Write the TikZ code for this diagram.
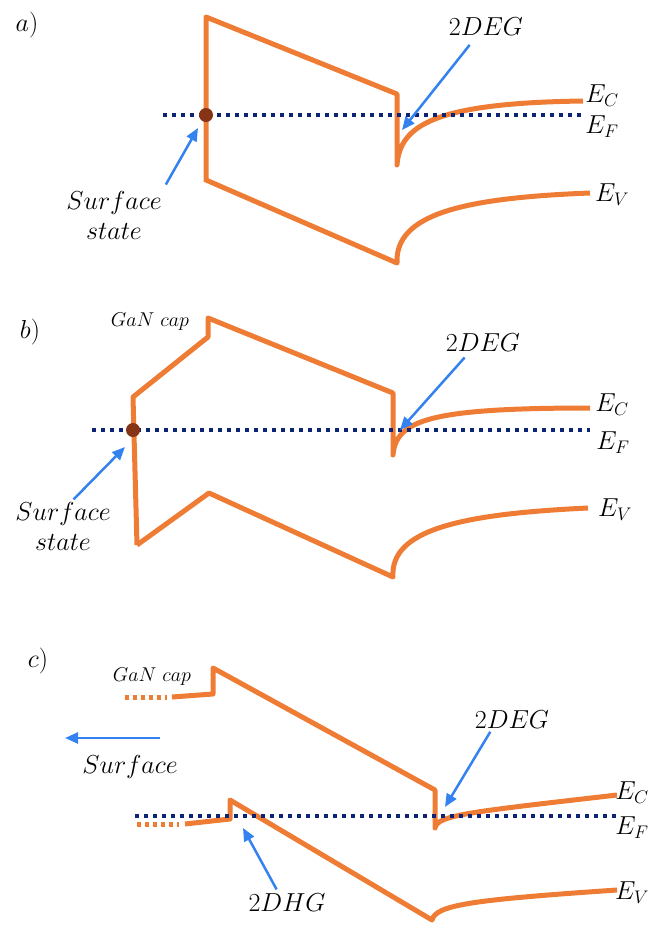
\RequirePackage{fix-cm}
\documentclass[tikz,border=0pt]{standalone}
\usepackage{amsmath}
\usetikzlibrary{arrows.meta}
\definecolor{band}{RGB}{238,124,52}
\definecolor{fermi}{RGB}{12,36,118}
\definecolor{ptr}{RGB}{52,130,240}
\definecolor{trap}{RGB}{135,52,22}

\begin{document}
\begin{tikzpicture}[x=1pt, y=-1pt,
    bnd/.style={band, line width=5pt, line join=round},
    bndcut/.style={band, line width=5pt, dash pattern=on 4pt off 4pt},
    ef/.style={fermi, line width=4pt, dash pattern=on 4pt off 5pt},
    arr/.style={ptr, line width=2.5pt, -{Triangle[length=13pt,width=11pt]}},
    lbl/.style={font=\fontsize{26}{30}\selectfont, inner sep=1pt, align=center},
    small/.style={font=\fontsize{20}{23}\selectfont, inner sep=1pt},
    trapdot/.style={circle, fill=trap, minimum size=14pt, inner sep=0pt}]

    \useasboundingbox (0,0) rectangle (649,930);

    % panel a)
    \node[lbl] (tagA) at (27,25) {$a)$};
    \draw[bnd] (206,182) -- (206,17) -- (397,94) -- (397,165)
      .. controls (400,125) and (435,103) .. (583,101);
    \draw[bnd] (206,180) -- (397,263)
      .. controls (395,215) and (460,198) .. (590,193);
    \draw[ef] (163,115) -- (585,115);
    \node[trapdot] (stA) at (206,115) {};
    \node[lbl] (ssA) at (114,215) {$Surface$\\$state$};
    \node[lbl] (egA) at (486,27) {$2DEG$};
    \coordinate (ssAtip) at (198,128);
    \coordinate (egAtip) at (402,130);
    \draw[arr, shorten <=6pt] (ssA.north east) -- (ssAtip);
    \draw[arr, shorten <=10pt] (egA.225) -- (egAtip);
    \node[lbl] (ecA) at (602,96) {$E_C$};
    \node[lbl] (efA) at (602,127) {$E_F$};
    \node[lbl] (evA) at (612,195) {$E_V$};

    % panel b)
    \node[lbl] (tagB) at (30,332) {$b)$};
    \node[small] (capB) at (150,322) {$GaN\ cap$};
    \draw[bnd] (137,545) -- (133,397) -- (208,337) -- (208,318) -- (393,393)
      -- (393,455) .. controls (396,420) and (430,408) .. (590,408);
    \draw[bnd] (137,545) -- (209,493) -- (393,577)
      .. controls (390,530) and (460,514) .. (588,508);
    \draw[ef] (92,430) -- (590,430);
    \node[trapdot] (stB) at (133,430) {};
    \node[lbl] (ssB) at (63,526) {$Surface$\\$state$};
    \node[lbl] (egB) at (483,343) {$2DEG$};
    \coordinate (ssBtip) at (125,447);
    \coordinate (egBtip) at (400,430);
    \draw[arr, shorten <=2pt] (ssB.70) -- (ssBtip);
    \draw[arr, shorten <=6pt] (egB.215) -- (egBtip);
    \node[lbl] (ecB) at (612,405) {$E_C$};
    \node[lbl] (efB) at (613,443) {$E_F$};
    \node[lbl] (evB) at (615,510) {$E_V$};

    % panel c)
    \node[lbl] (tagC) at (38,661) {$c)$};
    \node[small] (capC) at (152,677) {$GaN\ cap$};
    \draw[bndcut] (125,697) -- (167,697);
    \draw[bnd] (172,697) -- (213,694) -- (213,668) -- (435,790) -- (435,828)
      .. controls (437,815) and (470,812) .. (617,795);
    \draw[bndcut] (137,824) -- (179,824);
    \draw[bnd] (185,824) -- (230,819) -- (230,800) -- (432,920)
      .. controls (436,905) and (470,900) .. (617,890);
    \draw[ef] (135,816) -- (617,816);
    \node[lbl] (sfC) at (130,767) {$Surface$};
    \coordinate (sfTail) at (160,738);
    \coordinate (sfHead) at (65,738);
    \draw[arr] (sfTail) -- (sfHead);
    \node[lbl] (egC) at (512,720) {$2DEG$};
    \node[lbl] (hgC) at (287,903) {$2DHG$};
    \coordinate (egCtip) at (445,807);
    \coordinate (hgCtip) at (243,828);
    \draw[arr, shorten <=2pt] (egC.206) -- (egCtip);
    \draw[arr, shorten <=4pt] (hgC.130) -- (hgCtip);
    \node[lbl] (ecC) at (632,793) {$E_C$};
    \node[lbl] (efC) at (632,828) {$E_F$};
    \node[lbl] (evC) at (632,893) {$E_V$};
\end{tikzpicture}
\end{document}
